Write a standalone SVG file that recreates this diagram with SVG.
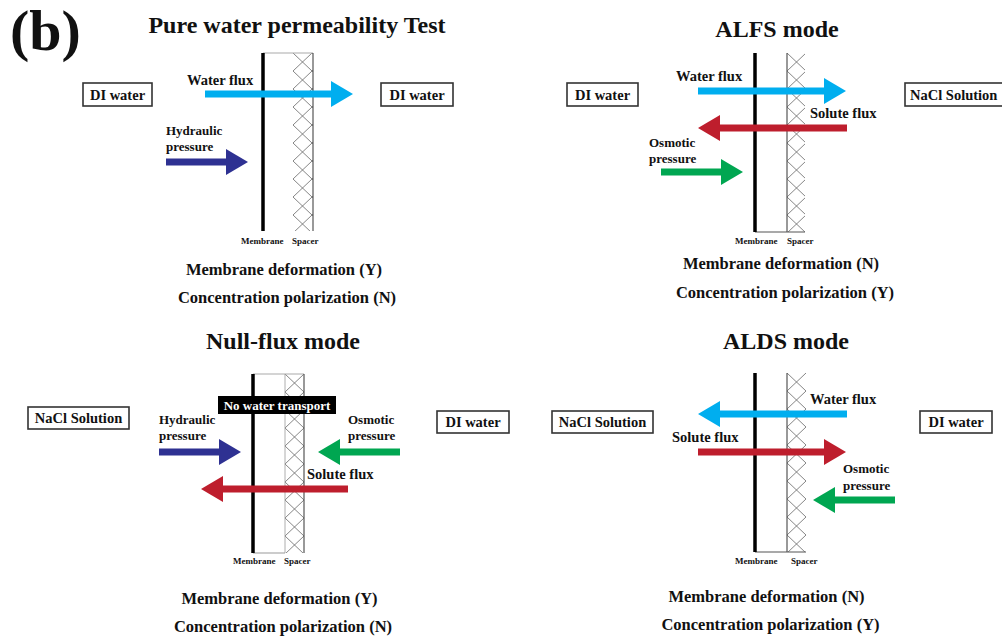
<svg xmlns="http://www.w3.org/2000/svg" width="1002" height="639" viewBox="0 0 1002 639">
<style>
text{font-family:"Liberation Serif","Times New Roman",serif;font-weight:bold;fill:#111}
.title{font-size:24px}
.lbl{font-size:14.5px}
.sm{font-size:13px}
.tiny{font-size:9px}
.cond{font-size:16.5px}
.mid{text-anchor:middle}
.box{fill:#fff;stroke:#333;stroke-width:1.6}
.mem{stroke:#000;stroke-width:3.5}
.edge{stroke:#555;stroke-width:1.2}
.edgel{stroke:#aaa;stroke-width:1.2}
.spacer{fill:url(#hatch)}
.sh{stroke-width:7;fill:none}
.blue{stroke:#00AEEF}
.navy{stroke:#2E3192}
.red{stroke:#BE1E2D}
.green{stroke:#00A651}
</style>
<defs>
<pattern id="hatch" patternUnits="userSpaceOnUse" width="19" height="18">
<path d="M0,0 L19,18 M19,0 L0,18" stroke="#666" stroke-width="0.8" fill="none"/>
</pattern>
<marker id="hBlue" markerUnits="userSpaceOnUse" markerWidth="22" markerHeight="26" refX="0" refY="13" orient="auto"><path d="M0,0 L22,13 L0,26 z" fill="#00AEEF"/></marker>
<marker id="hNavy" markerUnits="userSpaceOnUse" markerWidth="22" markerHeight="26" refX="0" refY="13" orient="auto"><path d="M0,0 L22,13 L0,26 z" fill="#2E3192"/></marker>
<marker id="hRed" markerUnits="userSpaceOnUse" markerWidth="22" markerHeight="26" refX="0" refY="13" orient="auto"><path d="M0,0 L22,13 L0,26 z" fill="#BE1E2D"/></marker>
<marker id="hGreen" markerUnits="userSpaceOnUse" markerWidth="22" markerHeight="26" refX="0" refY="13" orient="auto"><path d="M0,0 L22,13 L0,26 z" fill="#00A651"/></marker>
</defs>
<rect width="1002" height="639" fill="#fff"/>

<text x="10" y="50" style="font-size:58px">(b)</text>

<!-- Panel 1: Pure water permeability Test -->
<g id="panel-pwp">
<text class="title mid" x="297" y="33">Pure water permeability Test</text>
<g id="pwp-membrane">
<g transform="translate(293,53)"><rect class="spacer" width="20" height="178"/></g>
<line class="edgel" x1="263" y1="53" x2="313" y2="53"/>
<line class="edge" x1="313" y1="53" x2="313" y2="231"/>
<line class="mem" x1="263" y1="53" x2="263" y2="231"/>
<text class="tiny" x="241" y="244">Membrane</text>
<text class="tiny" x="292" y="244">Spacer</text>
</g>
<g id="pwp-left"><rect class="box" x="83" y="83" width="69" height="23"/><text class="lbl mid" x="117.5" y="99.5">DI water</text></g>
<g id="pwp-right"><rect class="box" x="381" y="83" width="72" height="23"/><text class="lbl mid" x="417" y="99.5">DI water</text></g>
<text class="lbl" x="187" y="85">Water flux</text>
<text class="sm" x="166" y="135">Hydraulic</text>
<text class="sm" x="166" y="151">pressure</text>
<text class="cond mid" x="284" y="275">Membrane deformation (Y)</text>
<text class="cond mid" x="287" y="303">Concentration polarization (N)</text>
</g>

<!-- Panel 2: ALFS mode -->
<g id="panel-alfs">
<text class="title mid" x="777" y="37">ALFS mode</text>
<g id="alfs-membrane">
<g transform="translate(787,53)"><rect class="spacer" width="18" height="179"/></g>
<line class="edge" x1="787" y1="53" x2="787" y2="232"/>
<line class="edge" x1="755" y1="232" x2="805" y2="232"/>
<line class="mem" x1="755" y1="53" x2="755" y2="232"/>
<text class="tiny" x="735" y="244">Membrane</text>
<text class="tiny" x="787" y="244">Spacer</text>
</g>
<g id="alfs-left"><rect class="box" x="567" y="83" width="71" height="23"/><text class="lbl mid" x="602.5" y="99.5">DI water</text></g>
<g id="alfs-right"><rect class="box" x="905" y="83" width="110" height="23"/><text class="lbl" x="910" y="99.5">NaCl Solution</text></g>
<text class="lbl" x="676" y="81">Water flux</text>
<text class="lbl" x="810" y="118">Solute flux</text>
<text class="sm" x="649" y="147">Osmotic</text>
<text class="sm" x="649" y="163">pressure</text>
<text class="cond mid" x="781" y="269">Membrane deformation (N)</text>
<text class="cond mid" x="785" y="298">Concentration polarization (Y)</text>
</g>

<!-- Panel 3: Null-flux mode -->
<g id="panel-null">
<text class="title mid" x="283" y="349">Null-flux mode</text>
<g id="null-membrane">
<g transform="translate(285,374)"><rect class="spacer" width="19" height="179"/></g>
<line class="edgel" x1="253" y1="374" x2="304" y2="374"/>
<line class="edgel" x1="253" y1="553" x2="285" y2="553"/>
<line class="edge" x1="285" y1="374" x2="285" y2="553" style="stroke:#999;stroke-width:0.8"/>
<line class="edge" x1="304" y1="374" x2="304" y2="553"/>
<line class="mem" x1="253" y1="374" x2="253" y2="553"/>
<text class="tiny" x="233" y="564">Membrane</text>
<text class="tiny" x="284" y="564">Spacer</text>
</g>
<g id="null-note"><rect x="218" y="396" width="118" height="18" fill="#000"/><text class="sm mid" x="277" y="410" style="fill:#fff">No water transport</text></g>
<g id="null-left"><rect class="box" x="28" y="407" width="101" height="22"/><text class="lbl mid" x="78.5" y="423">NaCl Solution</text></g>
<g id="null-right"><rect class="box" x="437" y="411" width="72" height="22"/><text class="lbl mid" x="473" y="427">DI water</text></g>
<text class="sm" x="159" y="424">Hydraulic</text>
<text class="sm" x="159" y="440">pressure</text>
<text class="sm" x="348" y="424">Osmotic</text>
<text class="sm" x="348" y="440">pressure</text>
<text class="lbl" x="307" y="479">Solute flux</text>
<text class="cond mid" x="279.5" y="604">Membrane deformation (Y)</text>
<text class="cond mid" x="283" y="632">Concentration polarization (N)</text>
</g>

<!-- Panel 4: ALDS mode -->
<g id="panel-alds">
<text class="title mid" x="786" y="349">ALDS mode</text>
<g id="alds-membrane">
<g transform="translate(787,373)"><rect class="spacer" width="19" height="179"/></g>
<line class="edge" x1="787" y1="373" x2="787" y2="552"/>
<line class="edge" x1="755" y1="552" x2="806" y2="552"/>
<line class="mem" x1="755" y1="373" x2="755" y2="552"/>
<text class="tiny" x="735" y="564">Membrane</text>
<text class="tiny" x="791" y="564">Spacer</text>
</g>
<g id="alds-left"><rect class="box" x="552" y="411" width="101" height="22"/><text class="lbl mid" x="602.5" y="427">NaCl Solution</text></g>
<g id="alds-right"><rect class="box" x="920" y="411" width="72" height="22"/><text class="lbl mid" x="956" y="427">DI water</text></g>
<text class="lbl" x="810" y="404">Water flux</text>
<text class="lbl" x="672" y="442">Solute flux</text>
<text class="sm" x="843" y="473">Osmotic</text>
<text class="sm" x="843" y="490">pressure</text>
<text class="cond mid" x="766.5" y="602">Membrane deformation (N)</text>
<text class="cond mid" x="770.5" y="630">Concentration polarization (Y)</text>
</g>

<!-- Connectors (arrows) -->
<g id="connectors">
<line class="sh blue" x1="205" y1="94" x2="331" y2="94" marker-end="url(#hBlue)"/>
<line class="sh navy" x1="166" y1="162" x2="226" y2="162" marker-end="url(#hNavy)"/>

<line class="sh blue" x1="698" y1="91" x2="824" y2="91" marker-end="url(#hBlue)"/>
<line class="sh red" x1="847" y1="128" x2="720" y2="128" marker-end="url(#hRed)"/>
<line class="sh green" x1="661" y1="172" x2="721" y2="172" marker-end="url(#hGreen)"/>

<line class="sh navy" x1="159" y1="452" x2="219" y2="452" marker-end="url(#hNavy)"/>
<line class="sh green" x1="400" y1="452" x2="340" y2="452" marker-end="url(#hGreen)"/>
<line class="sh red" x1="348" y1="489" x2="223" y2="489" marker-end="url(#hRed)"/>

<line class="sh blue" x1="847" y1="414" x2="720" y2="414" marker-end="url(#hBlue)"/>
<line class="sh red" x1="698" y1="452" x2="824" y2="452" marker-end="url(#hRed)"/>
<line class="sh green" x1="895" y1="500" x2="835" y2="500" marker-end="url(#hGreen)"/>
</g>
</svg>
